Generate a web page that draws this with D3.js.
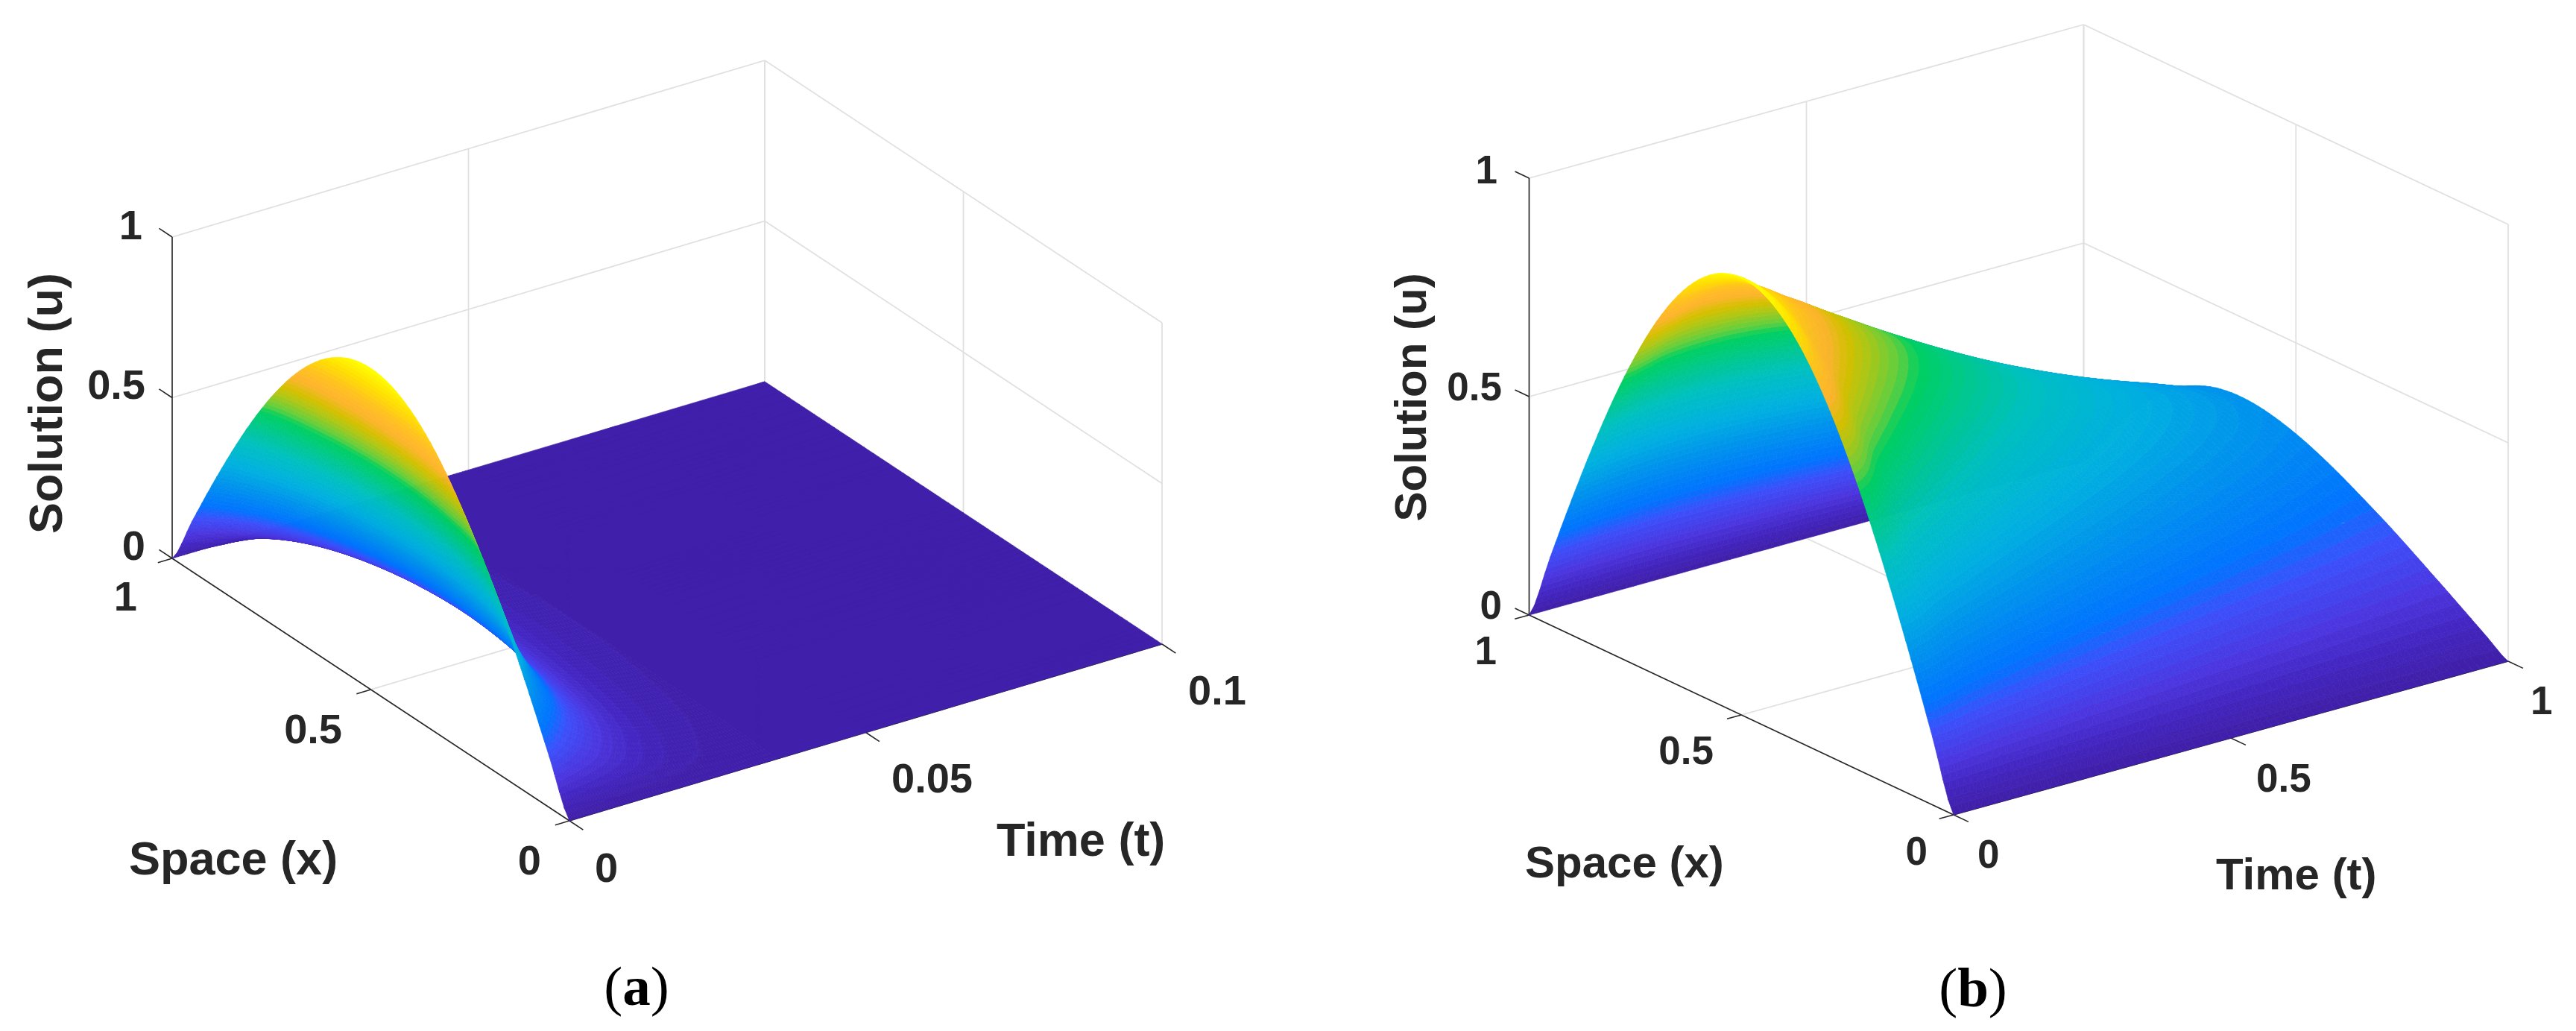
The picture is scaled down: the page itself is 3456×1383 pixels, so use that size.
<!DOCTYPE html>
<html>
<head>
<meta charset="utf-8">
<script src="https://cdnjs.cloudflare.com/ajax/libs/d3/7.8.5/d3.min.js"></script>
<style>html,body{margin:0;background:#fff}</style>
</head>
<body>
<svg id="chart" width="3456" height="1383" style="display:block"></svg>
<script>
// values
const spaceGrid = [0, .05, .1, .15, .2, .25, .3, .35, .4, .45, .5, .55, .6, .65, .7, .75, .8, .85, .9, .95, 1];

// panel (a): starting arch, flatter late arch, and how fast it dies away
const archA = [0, .156, .309, .454, .588, .707, .809, .891, .951, .988, 1, .988, .951, .891, .809, .707, .588, .454, .309, .156, 0];
const lateArchA = [0, .3, .45, .58, .68, .76, .83, .89, .94, .98, 1, .988, .951, .891, .809, .707, .588, .454, .309, .156, 0];
const timeGridA = [0, .0025, .005, .0075, .01, .0125, .015, .0175, .02, .0225, .025, .0275, .03, .0325, .035, .0375, .04, .05, .075, .1];
const decayA = [1, .743, .552, .41, .304, .226, .168, .125, .0926, .0687, .051, .038, .0282, .0209, .0155, .0115, .0086, .0026, .0001, 0];
const lateShareA = [0, .1, .2, .35, .5, .65, .8, .9, 1, 1, 1, 1, 1, 1, 1, 1, 1, 1, 1, 1];

// panel (b): u for each time row, across spaceGrid
const timeGridB = [0, .1, .2, .3, .4, .5, .6, .7, .8, .9, 1];
const solutionB = [
  [0, .156, .309, .454, .588, .707, .809, .891, .951, .988, 1, .988, .951, .891, .809, .707, .588, .454, .309, .156, 0],
  [0, .112, .223, .332, .436, .534, .625, .707, .778, .835, .877, .901, .904, .884, .837, .762, .657, .524, .366, .188, 0],
  [0, .089, .177, .263, .348, .429, .507, .58, .646, .705, .754, .791, .813, .817, .797, .749, .668, .549, .393, .206, 0],
  [0, .074, .147, .219, .29, .359, .426, .49, .549, .604, .652, .691, .719, .733, .727, .695, .631, .528, .384, .203, 0],
  [0, .063, .126, .188, .249, .309, .367, .423, .476, .525, .57, .607, .635, .651, .65, .625, .571, .481, .351, .186, 0],
  [0, .055, .11, .164, .218, .271, .322, .372, .419, .463, .503, .537, .562, .577, .576, .554, .506, .425, .309, .164, 0],
  [0, .049, .098, .146, .194, .241, .287, .331, .373, .412, .447, .477, .499, .511, .508, .487, .442, .37, .268, .141, 0],
  [0, .044, .088, .131, .174, .216, .257, .297, .334, .369, .4, .426, .444, .453, .448, .427, .385, .319, .23, .121, 0],
  [0, .04, .079, .119, .158, .196, .233, .268, .302, .332, .359, .381, .396, .402, .395, .374, .335, .276, .197, .103, 0],
  [0, .036, .072, .108, .144, .178, .211, .243, .273, .3, .324, .342, .354, .357, .349, .328, .291, .238, .17, .088, 0],
  [0, .033, .066, .099, .131, .163, .193, .221, .248, .272, .292, .307, .316, .317, .308, .287, .254, .206, .146, .076, 0]
];

const spaceTicks = [0, .5, 1];
const solutionTicks = [0, .5, 1];
const timeTicksA = [0, .05, .1];
const timeTicksB = [0, .5, 1];

// colormap, 64 steps like the figure
const colorStops = [0, .05, .1, .17, .22, .3, .4, .5, .64, .67, .72, .76, .81, .86, .93, 1];
const colorValues = ["#3f1fa6", "#4326c0", "#4b35de", "#3c50fb", "#0073ff", "#008cf0", "#00b0e0", "#00c0c0", "#00d060", "#60cf40", "#aac818", "#d4c000", "#ffb42e", "#ffc020", "#ffe000", "#ffff00"];
const levels = 64;
const colormap = d3.scaleLinear().domain(colorStops).range(colorValues).interpolate(d3.interpolateRgb);
const levelColor = L => colormap((Math.min(levels - 1, L) + .5) / levels);

const svg = d3.select("#chart");

// Catmull-Rom through a list, s is a fractional index
function cubic(list, s) {
  const n = list.length - 1;
  const i = Math.max(0, Math.min(n - 1, Math.floor(s)));
  const f = s - i;
  const p0 = list[Math.max(0, i - 1)], p1 = list[i], p2 = list[i + 1], p3 = list[Math.min(n, i + 2)];
  return p1 + .5 * f * (p2 - p0 + f * (2 * p0 - 5 * p1 + 4 * p2 - p3 + f * (3 * (p1 - p2) + p3 - p0)));
}

// keep the part of a polygon whose u is inside [lo, hi]
function clipBand(poly, lo, hi) {
  const clip = (pts, keep, edge) => {
    const out = [];
    pts.forEach((p, i) => {
      const q = pts[(i + 1) % pts.length];
      if (keep(p)) out.push(p);
      if (keep(p) !== keep(q)) {
        const f = (edge - p[2]) / (q[2] - p[2]);
        out.push([p[0] + f * (q[0] - p[0]), p[1] + f * (q[1] - p[1]), edge]);
      }
    });
    return out;
  };
  const a = clip(poly, p => p[2] >= lo, lo);
  return a.length ? clip(a, p => p[2] <= hi, hi) : a;
}

function polyPath(pts) {
  let area = 0;
  pts.forEach((p, i) => { const q = pts[(i + 1) % pts.length]; area += p[0] * q[1] - q[0] * p[1]; });
  const ordered = area < 0 ? pts.slice().reverse() : pts;
  return "M" + ordered.map(p => p[0].toFixed(1) + "," + p[1].toFixed(1)).join("L") + "Z";
}

function drawPanel(p) {
  const g = svg.append("g");
  const sub = (a, b) => [a[0] - b[0], a[1] - b[1]];
  const spacePos = d3.scaleLinear().domain([0, 1]).range([[0, 0], sub(p.A, p.B)]);
  const timePos = d3.scaleLinear().domain(d3.extent(p.timeTicks)).range([[0, 0], sub(p.C, p.B)]);
  const solPos = d3.scaleLinear().domain([0, 1]).range([0, p.height]);
  const project = (x, t, u) => {
    const a = spacePos(x), b = timePos(t);
    return [p.B[0] + a[0] + b[0], p.B[1] + a[1] + b[1] - solPos(u)];
  };
  const tMax = p.timeTicks[2];
  const line = (a, b, color, w) => g.append("line")
    .attr("x1", a[0]).attr("y1", a[1]).attr("x2", b[0]).attr("y2", b[1])
    .attr("stroke", color).attr("stroke-width", w);

  // grid on the back walls and the floor
  const gridColor = "#e0e0e0";
  solutionTicks.slice(1).forEach(u => {
    line(project(1, 0, u), project(1, tMax, u), gridColor, 1.8);
    line(project(1, tMax, u), project(0, tMax, u), gridColor, 1.8);
  });
  p.timeTicks.forEach(t => {
    line(project(1, t, 0), project(1, t, 1), gridColor, 1.8);
    line(project(1, t, 0), project(0, t, 0), gridColor, 1.8);
  });
  spaceTicks.forEach(x => {
    line(project(x, tMax, 0), project(x, tMax, 1), gridColor, 1.8);
    line(project(x, 0, 0), project(x, tMax, 0), gridColor, 1.8);
  });

  // axis lines and ticks
  const dark = "#262626";
  const unit = (v, len) => { const m = Math.hypot(v[0], v[1]); return [v[0] / m * len, v[1] / m * len]; };
  const tickS = unit(sub(p.B, p.C), 20), tickT = unit(sub(p.B, p.A), 22), tickU = unit(sub(p.A, p.B), 21);
  line(project(1, 0, 0), project(1, 0, 1), dark, 1.6);
  line(project(1, 0, 0), project(0, 0, 0), dark, 1.6);
  line(project(0, 0, 0), project(0, tMax, 0), dark, 1.6);
  const tick = (a, v) => line(a, [a[0] + v[0], a[1] + v[1]], dark, 1.6);
  solutionTicks.forEach(u => tick(project(1, 0, u), tickU));
  spaceTicks.forEach(x => tick(project(x, 0, 0), tickS));
  p.timeTicks.forEach(t => tick(project(0, t, 0), tickT));

  // surface, back to front, split along the colormap steps
  const pieces = [];
  const mesh = p.mesh;
  for (let i = mesh.t.length - 2; i >= 0; i--) {
    for (let j = mesh.x.length - 2; j >= 0; j--) {
      const c = [[j, i], [j + 1, i], [j + 1, i + 1], [j, i + 1]].map(([a, b]) => {
        const u = Math.max(0, p.solution(mesh.x[a], mesh.t[b]));
        const xy = project(mesh.x[a], mesh.t[b], u);
        return [xy[0], xy[1], u];
      });
      [[c[0], c[1], c[2]], [c[0], c[2], c[3]]].forEach(tri => {
        const us = tri.map(d => d[2]);
        const lo = Math.floor(d3.min(us) * levels), hi = Math.floor(d3.max(us) * levels);
        for (let L = lo; L <= hi; L++) {
          const part = lo === hi ? tri : clipBand(tri, L / levels, (L + 1) / levels);
          if (part.length < 3) continue;
          const fill = levelColor(L), d = polyPath(part);
          const last = pieces[pieces.length - 1];
          if (last && last.fill === fill) last.d += d;
          else pieces.push({ fill, d });
        }
      });
    }
  }
  g.append("g").selectAll("path").data(pieces).join("path")
    .attr("d", d => d.d).attr("fill", d => d.fill)
    .attr("stroke", d => d.fill).attr("stroke-width", .7).attr("stroke-linejoin", "round");

  // text
  const label = (t, x, y, size, anchor, rotate) => {
    const el = g.append("text").attr("font-family", "'Liberation Sans', Arial, sans-serif")
      .attr("font-weight", "bold").attr("font-size", size).attr("fill", dark)
      .attr("text-anchor", anchor).text(t);
    if (rotate) el.attr("transform", `translate(${x},${y}) rotate(-90)`);
    else el.attr("x", x).attr("y", y);
  };
  p.labels.forEach(l => label(l[0], l[1], l[2], l[3], l[4], l[5]));
}

const meshX = d3.range(0, 81).map(i => i / 80);

// panel (a) uses a fine mesh where the surface falls, plain beyond
const indexA = d3.scaleLinear().domain(timeGridA).range(d3.range(timeGridA.length));
drawPanel({
  A: [231, 749], B: [764, 1101], C: [1559, 864], height: 431,
  timeTicks: timeTicksA,
  mesh: { x: meshX, t: d3.range(0, 101).map(i => i * .0005).concat([.075, .1]) },
  solution: (x, t) => {
    const s = indexA(t), share = cubic(lateShareA, s);
    return ((1 - share) * cubic(archA, x * 20) + share * cubic(lateArchA, x * 20)) * cubic(decayA, s);
  },
  labels: [
    ["1", 191, 321, 56, "end"], ["0.5", 195, 535, 56, "end"], ["0", 195, 751, 56, "end"],
    ["1", 184, 819, 56, "end"], ["0.5", 459, 997, 56, "end"], ["0", 726, 1173, 56, "end"],
    ["0", 798, 1183, 56, "start"], ["0.05", 1196, 1063, 56, "start"], ["0.1", 1594, 945, 56, "start"],
    ["Space (x)", 173, 1173, 63, "start"], ["Time (t)", 1337, 1148, 63, "start"],
    ["Solution (u)", 83, 541, 63, "middle", true]
  ]
});

const meshT = d3.range(0, 81).map(i => i / 80);
drawPanel({
  A: [2051.5, 825], B: [2621, 1093], C: [3365, 887], height: 586,
  timeTicks: timeTicksB,
  mesh: { x: meshX, t: meshT },
  solution: (x, t) => {
    const col = solutionB.map(row => cubic(row, x * 20));
    return cubic(col, t * 10);
  },
  labels: [
    ["1", 2009, 246, 53, "end"], ["0.5", 2015, 537, 53, "end"], ["0", 2015, 830, 53, "end"],
    ["1", 2008, 891, 53, "end"], ["0.5", 2299, 1025, 53, "end"], ["0", 2586, 1160, 53, "end"],
    ["0", 2653, 1164, 53, "start"], ["0.5", 3027, 1062, 53, "start"], ["1", 3395, 958, 53, "start"],
    ["Space (x)", 2046, 1177, 60, "start"], ["Time (t)", 2973, 1193, 60, "start"],
    ["Solution (u)", 1913, 533, 60, "middle", true]
  ]
});

// panel captions
[["a", 854, 1348], ["b", 2647, 1350]].forEach(([name, x, y]) => {
  const t = svg.append("text").attr("x", x).attr("y", y).attr("text-anchor", "middle")
    .attr("font-family", "'Liberation Serif', 'Times New Roman', serif").attr("font-size", 75).attr("fill", "#000");
  t.append("tspan").text("(");
  t.append("tspan").attr("font-weight", "bold").text(name);
  t.append("tspan").text(")");
});
</script>
</body>
</html>
